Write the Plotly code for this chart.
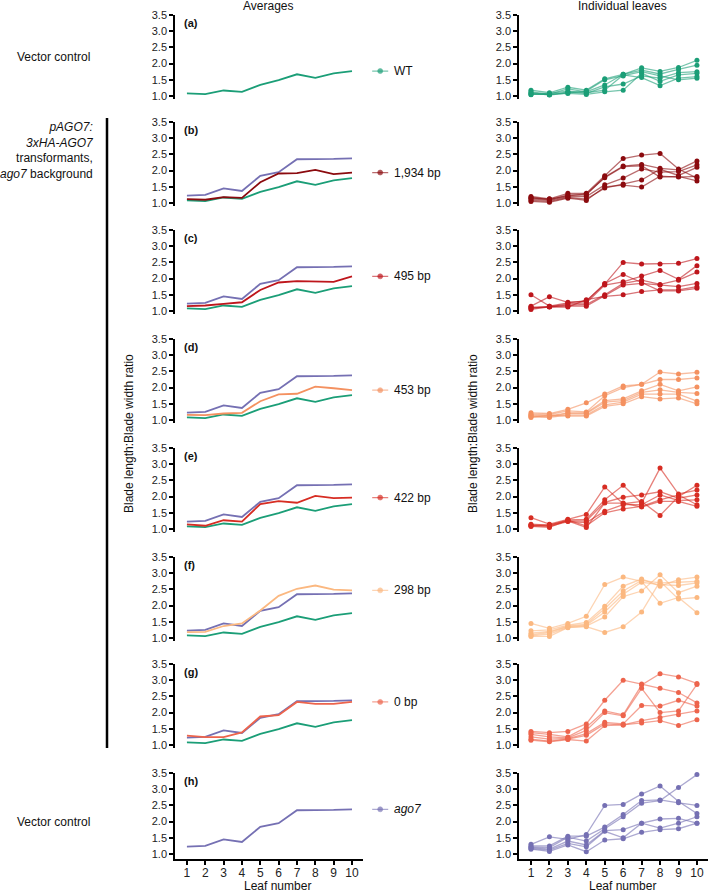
import plotly.graph_objects as go

W, H = 709, 892
leaves = list(range(1, 11))

# averages (panel left column)
wt_avg = [1.08, 1.06, 1.17, 1.13, 1.34, 1.49, 1.67, 1.56, 1.70, 1.77]
ago7_avg = [1.23, 1.25, 1.45, 1.37, 1.84, 1.95, 2.35, 2.35, 2.36, 2.38]
bp1934_avg = [1.12, 1.10, 1.18, 1.16, 1.64, 1.91, 1.92, 2.02, 1.89, 1.94]
bp495_avg = [1.15, 1.17, 1.22, 1.27, 1.65, 1.88, 1.92, 1.91, 1.90, 2.07]
bp453_avg = [1.16, 1.15, 1.20, 1.22, 1.58, 1.79, 1.81, 2.03, 1.98, 1.92]
bp422_avg = [1.14, 1.10, 1.27, 1.23, 1.77, 1.86, 1.81, 2.02, 1.95, 1.97]
bp298_avg = [1.18, 1.19, 1.37, 1.45, 1.85, 2.30, 2.52, 2.62, 2.49, 2.47]
bp0_avg = [1.29, 1.24, 1.24, 1.39, 1.88, 1.92, 2.33, 2.27, 2.27, 2.33]

# individual leaves (one list per plant)
wt_ind = [
    [1.18, 1.10, 1.27, 1.18, 1.53, 1.67, 1.87, 1.76, 1.88, 2.10],
    [1.13, 1.06, 1.22, 1.13, 1.34, 1.67, 1.80, 1.68, 1.82, 1.95],
    [1.08, 1.04, 1.12, 1.08, 1.28, 1.37, 1.62, 1.55, 1.72, 1.75],
    [1.05, 1.05, 1.08, 1.05, 1.13, 1.18, 1.70, 1.45, 1.65, 1.70],
    [1.04, 1.08, 1.15, 1.10, 1.18, 1.65, 1.57, 1.32, 1.55, 1.60],
    [1.10, 1.03, 1.10, 1.15, 1.50, 1.62, 1.75, 1.62, 1.50, 1.55],
]
bp1934_ind = [
    [1.20, 1.13, 1.30, 1.30, 1.84, 2.37, 2.48, 2.53, 2.05, 1.77],
    [1.17, 1.10, 1.25, 1.25, 1.80, 2.14, 2.19, 2.07, 2.02, 2.30],
    [1.12, 1.08, 1.20, 1.20, 1.56, 1.77, 2.05, 1.95, 1.97, 2.18],
    [1.08, 1.05, 1.17, 1.12, 1.46, 1.59, 1.71, 2.04, 1.85, 2.10],
    [1.05, 1.02, 1.15, 1.08, 1.50, 1.55, 1.49, 1.83, 1.80, 1.82],
    [1.15, 1.12, 1.22, 1.28, 1.78, 2.12, 2.15, 1.80, 1.82, 1.68],
]
bp495_ind = [
    [1.50, 1.15, 1.25, 1.32, 1.83, 2.50, 2.45, 2.45, 2.47, 2.62],
    [1.15, 1.44, 1.27, 1.30, 1.85, 2.13, 1.88, 1.62, 1.62, 1.70],
    [1.12, 1.13, 1.22, 1.25, 1.80, 1.90, 2.08, 2.25, 1.98, 2.40],
    [1.10, 1.12, 1.18, 1.20, 1.50, 1.85, 1.95, 1.82, 1.95, 2.20],
    [1.08, 1.15, 1.15, 1.15, 1.47, 1.80, 1.85, 1.80, 1.75, 1.85],
    [1.05, 1.13, 1.12, 1.35, 1.45, 1.50, 1.60, 1.65, 1.65, 1.75],
]
bp453_ind = [
    [1.22, 1.20, 1.33, 1.53, 1.80, 2.05, 2.10, 2.48, 2.42, 2.47],
    [1.18, 1.17, 1.28, 1.25, 1.75, 2.00, 2.10, 2.25, 2.25, 2.30],
    [1.15, 1.13, 1.22, 1.22, 1.60, 1.65, 1.90, 2.10, 1.90, 2.02],
    [1.12, 1.10, 1.20, 1.20, 1.55, 1.60, 1.85, 1.93, 1.85, 1.82],
    [1.10, 1.08, 1.15, 1.15, 1.47, 1.55, 1.80, 1.80, 1.80, 1.58],
    [1.08, 1.15, 1.12, 1.12, 1.42, 1.50, 1.72, 1.65, 1.68, 1.50],
]
bp422_ind = [
    [1.35, 1.15, 1.30, 1.45, 2.30, 1.78, 1.85, 1.42, 2.00, 2.35],
    [1.15, 1.12, 1.28, 1.30, 1.90, 2.35, 1.80, 2.88, 2.08, 2.20],
    [1.12, 1.10, 1.25, 1.25, 1.82, 1.98, 2.05, 2.15, 1.95, 2.05],
    [1.10, 1.08, 1.23, 1.20, 1.55, 1.75, 1.75, 2.05, 1.88, 1.90],
    [1.08, 1.05, 1.27, 1.10, 1.50, 1.62, 1.70, 1.90, 2.05, 1.75],
    [1.10, 1.13, 1.25, 1.05, 1.80, 1.80, 1.68, 1.85, 1.85, 1.70],
]
bp298_ind = [
    [1.45, 1.30, 1.45, 1.67, 2.65, 2.88, 2.75, 2.07, 2.25, 1.78],
    [1.22, 1.25, 1.40, 1.48, 1.98, 2.60, 2.82, 2.60, 2.80, 2.88],
    [1.15, 1.20, 1.37, 1.43, 1.90, 2.45, 2.78, 2.70, 2.72, 2.75],
    [1.10, 1.17, 1.35, 1.40, 1.80, 2.35, 2.72, 2.65, 2.62, 2.70],
    [1.07, 1.12, 1.33, 1.37, 1.65, 2.28, 2.45, 2.95, 2.40, 2.60],
    [1.05, 1.05, 1.32, 1.35, 1.17, 1.35, 1.80, 2.75, 2.20, 2.25],
]
bp0_ind = [
    [1.42, 1.38, 1.42, 1.65, 2.38, 3.00, 2.88, 2.75, 2.62, 2.30],
    [1.38, 1.33, 1.25, 1.55, 2.05, 1.93, 2.85, 3.20, 3.10, 2.90],
    [1.33, 1.25, 1.22, 1.45, 2.00, 1.90, 2.75, 2.00, 2.05, 2.87],
    [1.25, 1.18, 1.20, 1.35, 1.70, 1.65, 2.22, 2.20, 2.38, 2.20],
    [1.18, 1.12, 1.18, 1.30, 1.65, 1.62, 1.75, 1.85, 1.93, 2.05],
    [1.15, 1.10, 1.17, 1.12, 1.60, 1.62, 1.68, 1.75, 1.60, 1.78],
]
ago7_ind = [
    [1.30, 1.53, 1.45, 1.60, 2.50, 2.53, 2.85, 3.10, 2.62, 2.25],
    [1.25, 1.25, 1.55, 1.55, 1.83, 2.22, 2.65, 2.67, 2.58, 2.50],
    [1.22, 1.20, 1.52, 1.40, 1.78, 2.15, 2.57, 2.65, 3.05, 3.45],
    [1.20, 1.15, 1.40, 1.28, 1.72, 1.75, 1.95, 2.08, 2.10, 1.95],
    [1.17, 1.12, 1.33, 1.22, 1.70, 1.50, 1.95, 1.80, 1.95, 2.15],
    [1.15, 1.08, 1.28, 1.07, 1.43, 1.47, 1.67, 1.75, 1.78, 1.95],
]

GREEN = (27, 158, 119)
PURPLE = (117, 112, 179)

rows = [
    ("(a)", "WT", wt_avg, wt_ind, GREEN),
    ("(b)", "1,934 bp", bp1934_avg, bp1934_ind, (139, 10, 14)),
    ("(c)", "495 bp", bp495_avg, bp495_ind, (190, 22, 28)),
    ("(d)", "453 bp", bp453_avg, bp453_ind, (244, 145, 96)),
    ("(e)", "422 bp", bp422_avg, bp422_ind, (215, 45, 35)),
    ("(f)", "298 bp", bp298_avg, bp298_ind, (251, 184, 128)),
    ("(g)", "0 bp", bp0_avg, bp0_ind, (237, 100, 76)),
    ("(h)", "<i>ago7</i>", ago7_avg, ago7_ind, PURPLE),
]

tops = [15, 122, 230, 339, 448, 557, 664, 773]
PXU = 32.4  # pixels per unit on y


def rgb(c, a=1.0):
    return f"rgba({c[0]},{c[1]},{c[2]},{a})"


def px(x):
    return x / W


def py(y):
    return 1 - y / H


def axname(kind, k):
    return kind if k == 1 else f"{kind}{k}"


def ref(kind, k):
    return kind if k == 1 else f"{kind}{k}"


def note(text, x, y, xanchor="center", size=12, **kw):
    # paper annotation placed by pixel position (centre line of the text)
    return dict(x=px(x), y=py(y), xref="paper", yref="paper", text=text,
                showarrow=False, xanchor=xanchor, yanchor="middle",
                font=dict(size=size, color="#111"), **kw)


fig = go.Figure()
layout = {}
annotations = []
shapes = []

FONT = "Liberation Sans, Arial, sans-serif"
ytick = [1.0, 1.5, 2.0, 2.5, 3.0, 3.5]

layout["xaxis17"] = dict(domain=[px(365), px(445)], range=[0, 1], visible=False,
                         anchor="y", fixedrange=True)

for i, (lab, name, avg, ind, col) in enumerate(rows):
    bottom_row = i == len(rows) - 1
    ylo = 0.85 if bottom_row else 0.9
    top = tops[i]
    bot = top + (3.5 - ylo) * PXU
    for k, xd in ((i + 1, (175, 363)), (i + 9, (519, 708))):
        layout[axname("xaxis", k)] = dict(
            domain=[px(xd[0]), px(xd[1])], range=[0.35, 10.6], anchor=ref("y", k),
            visible=bottom_row, showline=True, linecolor="black", linewidth=1.5,
            ticks="outside", ticklen=4, tickwidth=1.5, tickcolor="black",
            tickvals=leaves, tickfont=dict(size=12, color="#222"),
            ticklabelstandoff=-2,
            showgrid=False, zeroline=False, automargin=False)
        layout[axname("yaxis", k)] = dict(
            domain=[py(bot), py(top)], range=[ylo, 3.5], anchor=ref("x", k),
            showline=True, linecolor="black", linewidth=1.5,
            ticks="outside", ticklen=4, tickwidth=1.5, tickcolor="black",
            tickvals=ytick, ticktext=[f"{v:.1f}" for v in ytick],
            tickfont=dict(size=11, color="#222"),
            showgrid=False, zeroline=False, automargin=False)

    kL, kR = i + 1, i + 9
    # averages panel
    series = [(avg, col)]
    if 0 < i < len(rows) - 1:
        series = [(wt_avg, GREEN), (ago7_avg, PURPLE), (avg, col)]
    for vals, c in series:
        fig.add_trace(go.Scatter(x=leaves, y=vals, mode="lines",
                                 line=dict(color=rgb(c), width=1.8),
                                 xaxis=ref("x", kL), yaxis=ref("y", kL),
                                 showlegend=False, hoverinfo="skip"))
    # individual leaves panel
    for vals in ind:
        fig.add_trace(go.Scatter(x=leaves, y=vals, mode="lines+markers",
                                 line=dict(color=rgb(col, 0.6), width=1.3),
                                 marker=dict(color=rgb(col), size=5),
                                 cliponaxis=False,
                                 xaxis=ref("x", kR), yaxis=ref("y", kR),
                                 showlegend=False, hoverinfo="skip"))
    # legend key beside the averages panel, at the level of the last average
    fig.add_trace(go.Scatter(x=[0.09, 0.19, 0.29], y=[avg[-1]] * 3,
                             mode="lines+markers",
                             line=dict(color=rgb(col, 0.6), width=1.3),
                             marker=dict(color=rgb(col), size=[0, 5, 0]),
                             cliponaxis=False,
                             xaxis="x17", yaxis=ref("y", kL),
                             showlegend=False, hoverinfo="skip"))
    annotations.append(dict(x=0.34, y=avg[-1], xref="x17", yref=ref("y", kL),
                            text=name, showarrow=False, xanchor="left",
                            yanchor="middle", font=dict(size=12, color="#111")))
    annotations.append(note(f"<b>{lab}</b>", 182, top + 8, xanchor="left", size=11))

# titles and side labels
annotations.append(note("Averages", 268, 6))
annotations.append(note("Individual leaves", 622, 6))
annotations.append(note("Leaf number", 277, 886))
annotations.append(note("Leaf number", 622, 886))
for x in (129, 473):
    annotations.append(note("Blade length:Blade width ratio", x, 434, textangle=-90))
for y in (57, 822):
    annotations.append(note("Vector control", 92, y, xanchor="right"))
annotations.append(note("<i>pAGO7:</i><br><i>3xHA-AGO7</i><br>transformants,<br>"
                        "<i>ago7</i> background", 96, 150, xanchor="right",
                        align="right"))
shapes.append(dict(type="line", xref="paper", yref="paper", x0=px(107), x1=px(107),
                   y0=py(118), y1=py(748), line=dict(color="black", width=2.5)))

fig.update_layout(**layout)
fig.update_layout(width=W, height=H, margin=dict(l=0, r=0, t=0, b=0),
                  template="none", paper_bgcolor="white", plot_bgcolor="white",
                  font=dict(family=FONT, color="#111"), showlegend=False,
                  annotations=annotations, shapes=shapes)

# the page's default body margin would push the figure off the window
fig.write_html("out.html", config={"displayModeBar": False},
               post_script="document.body.style.margin='0px';")
